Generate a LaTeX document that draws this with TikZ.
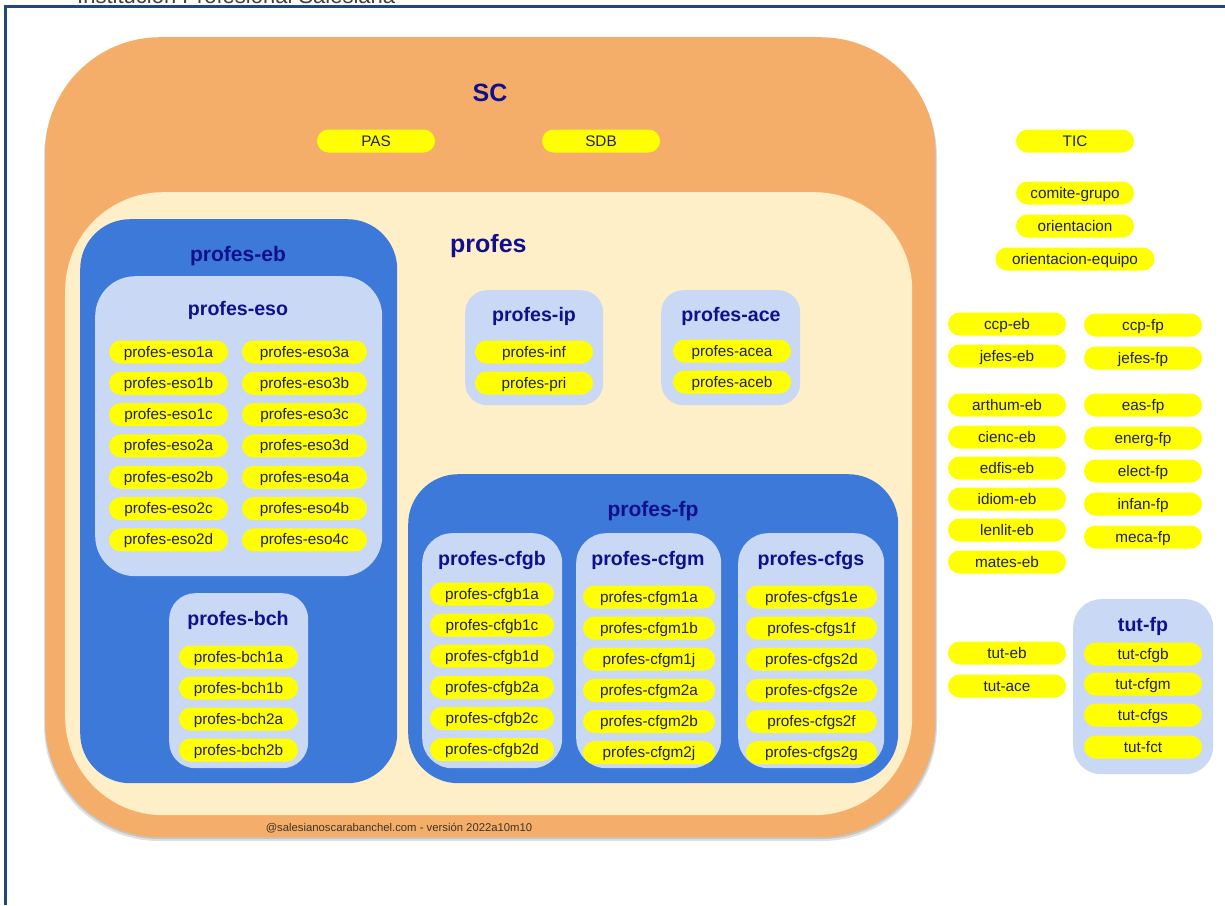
\documentclass[tikz,border=0pt]{standalone}
\usepackage{fontspec}
\setmainfont{Liberation Sans}
\definecolor{orangebg}{RGB}{244,174,106}
\definecolor{creambg}{RGB}{255,239,200}
\definecolor{bluebg}{RGB}{60,121,216}
\definecolor{lightbg}{RGB}{201,216,245}
\definecolor{pillyellow}{RGB}{255,255,0}
\definecolor{pilltxt}{RGB}{32,32,100}
\definecolor{headtxt}{RGB}{16,16,140}
\definecolor{framecol}{RGB}{31,73,125}
\definecolor{foottxt}{RGB}{60,52,45}
\tikzset{
  pill/.style={fill=pillyellow, rounded corners=11.5pt, minimum height=23pt, minimum width=118pt,
    inner sep=0pt, text height=13pt, text depth=3pt, font=\fontsize{15.3}{16}\selectfont, text=pilltxt},
  hdsmall/.style={font=\bfseries\fontsize{19.6}{20}\selectfont, text=headtxt, inner sep=0pt},
  hdmid/.style={font=\bfseries\fontsize{21}{22}\selectfont, text=headtxt, inner sep=0pt},
  hdbig/.style={font=\bfseries\fontsize{25}{26}\selectfont, text=headtxt, inner sep=0pt},
  cbox/.style={inner sep=0pt, anchor=north west},
}
\newcommand{\contbox}[7]{%
  \node[cbox, fill=#6, rounded corners=#7pt, minimum width={(#4-#2)*1pt}, minimum height={(#5-#3)*1pt}] (#1) at (#2,#3) {};}
\begin{document}
\begin{tikzpicture}[x=1pt, y=-1pt]
\useasboundingbox (0,0) rectangle (1225,905);
\fill[white] (0,0) rectangle (1225,905);
% page frame and cut header
\node[anchor=base west, inner sep=0pt, font=\fontsize{22}{22}\selectfont, text=black!75] (inst) at (77,3.5) {Institución Profesional Salesiana};
\draw[framecol, line width=2.2pt] (5.5,905) -- (5.5,6.5) -- (1225,6.5);
% shadow of outer box
\fill[black, opacity=0.12, rounded corners=115pt] (44,41) rectangle (937,841);
\fill[black, opacity=0.12, rounded corners=115pt] (45,39) rectangle (936,839);
% containers
\contbox{sc}{45}{37}{935}{837}{orangebg}{115}
\contbox{profesbox}{65}{192}{912}{815}{creambg}{98}
\contbox{eb}{80}{219}{397}{783}{bluebg}{50}
\contbox{eso}{95}{276}{382}{576}{lightbg}{40}
\contbox{bch}{169}{593}{308}{768}{lightbg}{26}
\contbox{ip}{465}{290}{603}{405}{lightbg}{22}
\contbox{ace}{661}{290}{800}{405}{lightbg}{22}
\contbox{fp}{408}{474}{898}{783}{bluebg}{50}
\contbox{cfgb}{422}{533}{562}{768}{lightbg}{30}
\contbox{cfgm}{576}{533}{721}{768}{lightbg}{30}
\contbox{cfgs}{738}{533}{884}{768}{lightbg}{30}
\contbox{tutfp}{1073}{599}{1213}{774}{lightbg}{28}
% titles
\node[hdbig] (tsc) at (490,93) {SC};
\node[hdbig, anchor=west] (tprofes) at (450,246) {profes};
\node[hdmid] (teb) at (238,256) {profes-eb};
\node[hdsmall] (teso) at (238,310) {profes-eso};
\node[hdsmall] (tbch) at (238,620) {profes-bch};
\node[hdsmall] (tip) at (534,316) {profes-ip};
\node[hdsmall] (tace) at (731,316) {profes-ace};
\node[hdmid] (tfp) at (653,511) {profes-fp};
\node[hdsmall] (tcfgb) at (492,560) {profes-cfgb};
\node[hdsmall] (tcfgm) at (648,560) {profes-cfgm};
\node[hdsmall] (tcfgs) at (811,560) {profes-cfgs};
\node[hdsmall] (ttutfp) at (1143,626) {tut-fp};
% SC pills
\node[pill] (pas) at (376,141) {PAS};
\node[pill] (sdb) at (601,141) {SDB};
% ESO
\foreach \n [count=\i from 0] in {1a,1b,1c,2a,2b,2c,2d}
  \node[pill, minimum width=119pt] (eso\n) at (168.5,{352+31.33*\i}) {profes-eso\n};
\foreach \n [count=\i from 0] in {3a,3b,3c,3d,4a,4b,4c}
  \node[pill, minimum width=125pt] (eso\n) at (304.5,{352+31.33*\i}) {profes-eso\n};
% BCH
\foreach \n [count=\i from 0] in {1a,1b,2a,2b}
  \node[pill, minimum width=119pt] (bch\n) at (238.5,{657+31*\i}) {profes-bch\n};
% IP / ACE
\node[pill] (inf) at (534,352) {profes-inf};
\node[pill] (pri) at (534,383) {profes-pri};
\node[pill] (acea) at (732,351) {profes-acea};
\node[pill] (aceb) at (732,382) {profes-aceb};
% FP
\foreach \n [count=\i from 0] in {1a,1c,1d,2a,2c,2d}
  \node[pill, minimum width=124pt] (cfgb\n) at (492,{594+31.1*\i}) {profes-cfgb\n};
\foreach \n [count=\i from 0] in {1a,1b,1j,2a,2b,2j}
  \node[pill, minimum width=132pt] (cfgm\n) at (649,{597+31.1*\i}) {profes-cfgm\n};
\foreach \n [count=\i from 0] in {1e,1f,2d,2e,2f,2g}
  \node[pill, minimum width=131pt] (cfgs\n) at (811.5,{597+31.1*\i}) {profes-cfgs\n};
% right side
\node[pill] (tic) at (1075,141) {TIC};
\node[pill] (comite) at (1075,193) {comite-grupo};
\node[pill] (orient) at (1075,226) {orientacion};
\node[pill, minimum width=159pt] (orienteq) at (1075,259) {orientacion-equipo};
\node[pill] (ccpeb) at (1007,324) {ccp-eb};
\node[pill] (jefeseb) at (1007,356) {jefes-eb};
\node[pill] (arthum) at (1007,405) {arthum-eb};
\node[pill] (cienc) at (1007,437) {cienc-eb};
\node[pill] (edfis) at (1007,468) {edfis-eb};
\node[pill] (idiom) at (1007,499) {idiom-eb};
\node[pill] (lenlit) at (1007,530) {lenlit-eb};
\node[pill] (mates) at (1007,562) {mates-eb};
\node[pill] (tuteb) at (1007,653) {tut-eb};
\node[pill] (tutace) at (1007,686) {tut-ace};
\node[pill] (ccpfp) at (1143,325) {ccp-fp};
\node[pill] (jefesfp) at (1143,358) {jefes-fp};
\node[pill] (eas) at (1143,405) {eas-fp};
\node[pill] (energ) at (1143,438) {energ-fp};
\node[pill] (elect) at (1143,471) {elect-fp};
\node[pill] (infan) at (1143,504) {infan-fp};
\node[pill] (meca) at (1143,537) {meca-fp};
\node[pill] (tutcfgb) at (1143,654) {tut-cfgb};
\node[pill] (tutcfgm) at (1143,684) {tut-cfgm};
\node[pill] (tutcfgs) at (1143,715) {tut-cfgs};
\node[pill] (tutfct) at (1143,747) {tut-fct};
% footer
\node[inner sep=0pt, font=\fontsize{11.3}{12}\selectfont, text=foottxt] (footer) at (399,828) {@salesianoscarabanchel.com - versión 2022a10m10};
\end{tikzpicture}
\end{document}
